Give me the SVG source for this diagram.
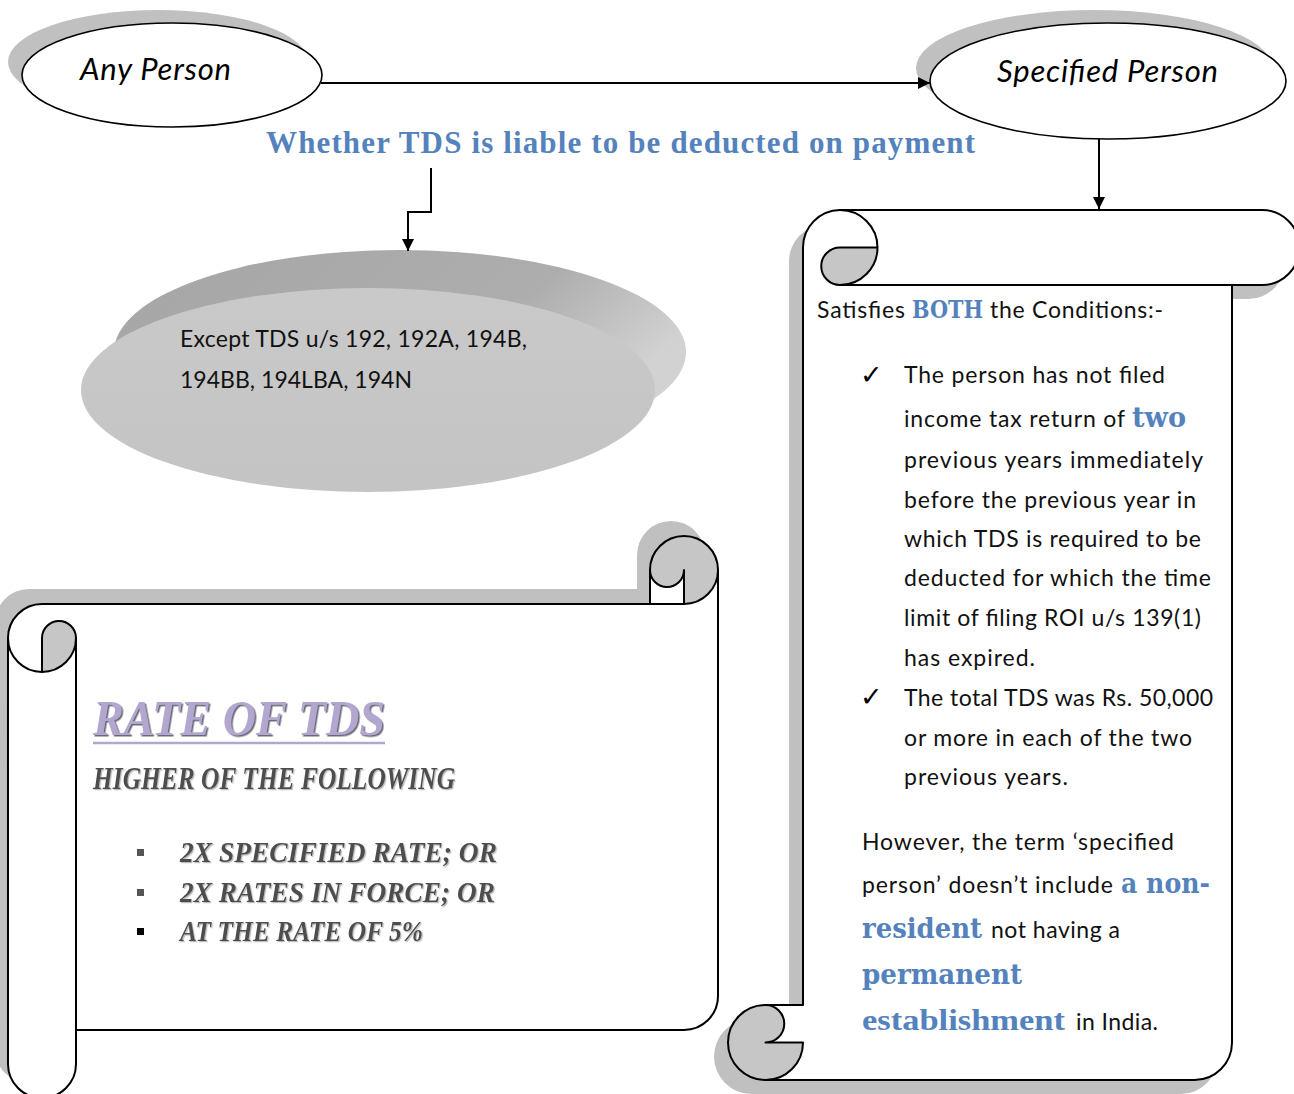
<svg xmlns="http://www.w3.org/2000/svg" width="1294" height="1094" viewBox="0 0 1294 1094">
<defs>
<style>
.outline{fill:none;stroke:#000;stroke-width:2;stroke-linejoin:round;stroke-linecap:round}
.shadow{fill:#c0c0c0}
.white{fill:#fff}
.curl{fill:#c6c6c6}
.body{font-family:Lato,'Liberation Sans',sans-serif;font-size:23px;fill:#111}
.blue{font-family:'DejaVu Serif','Liberation Serif',serif;font-weight:bold;fill:#5482bd}
.blue2{font-family:'Liberation Serif',serif;font-weight:bold;fill:#5482bd}
.title{font-family:'Liberation Serif',serif;font-weight:bold;fill:#5482bd}
.oval{font-family:Lato,'Liberation Sans',sans-serif;font-style:italic;font-size:31px;fill:#000}
.deco{font-family:'Liberation Serif',serif;font-style:italic;font-weight:bold}
.conn{fill:none;stroke:#000;stroke-width:2}
.ell{fill:#fff;stroke:#000;stroke-width:1.6}
.chk{font-family:'DejaVu Sans',sans-serif;font-size:27px;fill:#000}
</style>
<marker id="arrow" viewBox="0 0 10 10" refX="10" refY="5" markerWidth="6" markerHeight="6" orient="auto" markerUnits="strokeWidth">
<path d="M0,0 L10,5 L0,10 Z" fill="#000"/>
</marker>
<linearGradient id="rim" x1="0" y1="0" x2="1" y2="0.4">
<stop offset="0" stop-color="#a6a6a6"/>
<stop offset="0.7" stop-color="#adadad"/>
<stop offset="1" stop-color="#d2d2d2"/>
</linearGradient>
<linearGradient id="face" x1="0" y1="0" x2="0" y2="1">
<stop offset="0" stop-color="#c9c9c9"/>
<stop offset="1" stop-color="#c4c4c4"/>
</linearGradient>
<filter id="ds" x="-5%" y="-30%" width="110%" height="160%">
<feDropShadow dx="1.5" dy="1.5" stdDeviation="0.4" flood-color="#6a6a7a"/>
</filter>
<filter id="ds2" x="-5%" y="-30%" width="110%" height="160%">
<feDropShadow dx="1.2" dy="1.2" stdDeviation="0.4" flood-color="#bbbbbb"/>
</filter>
<path id="lscroll" d="M42,604 L650,604 L650,570 A34,34 0 0 1 718,570 L718,996 A34,34 0 0 1 684,1030 L76,1030 L76,1064 A34,34 0 0 1 8,1064 L8,638 A34,34 0 0 1 42,604 Z"/>
<path id="rscroll" d="M840,210 L1262,210 A37.5,37.5 0 0 1 1262,285 L1232,285 L1232,1042.5 A37.5,37.5 0 0 1 1194.5,1080 L765.5,1080 A37.5,37.5 0 0 1 765.5,1005 L803,1005 L803,247.5 A37.5,37.5 0 0 1 840,210 Z"/>
</defs>

<rect width="1294" height="1094" fill="#fff"/>

<!-- Any Person -->
<g id="node-any-person">
<ellipse class="shadow" cx="158" cy="62" rx="150" ry="52"/>
<ellipse class="ell" cx="172" cy="75" rx="150" ry="52"/>
<text class="oval" x="80" y="80" textLength="151">Any Person</text>
</g>

<!-- Specified Person -->
<g id="node-specified-person">
<ellipse class="shadow" cx="1094" cy="68" rx="178" ry="58"/>
<ellipse class="ell" cx="1108" cy="81" rx="178" ry="58"/>
<text class="oval" x="997" y="82" textLength="221">Specified Person</text>
</g>

<!-- Title -->
<g id="node-title">
<text class="title" x="266" y="153" font-size="31" textLength="709">Whether TDS is liable to be deducted on payment</text>
</g>

<!-- Grey disc -->
<g id="node-except">
<ellipse cx="400" cy="352" rx="286" ry="102" fill="url(#rim)"/>
<ellipse cx="368" cy="390" rx="287" ry="102" fill="url(#face)"/>
<text class="body" x="180" y="347" textLength="347">Except TDS u/s 192, 192A, 194B,</text>
<text class="body" x="180" y="388" textLength="232">194BB, 194LBA, 194N</text>
</g>

<!-- Left horizontal scroll: Rate of TDS -->
<g id="node-rate">
<use href="#lscroll" class="shadow" transform="translate(-13,-15)"/>
<use href="#lscroll" class="white"/>
<path class="curl" d="M42,672 A34,34 0 0 0 76,638 A17,17 0 0 0 42,638 Z"/>
<path class="curl" d="M684,604 A34,34 0 1 0 650,570 A17,17 0 0 0 684,570 Z"/>
<path class="outline" d="M8,638 A34,34 0 0 1 42,604 L650,604 L650,570 A34,34 0 0 1 718,570 L718,996 A34,34 0 0 1 684,1030 L76,1030 L76,1064 A34,34 0 0 1 8,1064 Z"/>
<path class="outline" d="M650,604 L684,604 A34,34 0 0 0 718,570"/>
<path class="outline" d="M684,604 L684,570 A17,17 0 0 1 650,570"/>
<path class="outline" d="M42,672 L42,638 A17,17 0 0 1 76,638 A34,34 0 0 1 8,638"/>
<path class="outline" d="M76,638 L76,1030"/>
<text class="deco" x="93" y="735" font-size="50" fill="#b3a6cf" filter="url(#ds)" textLength="292" lengthAdjust="spacingAndGlyphs">RATE OF TDS</text>
<line x1="93" y1="743" x2="385" y2="743" stroke="#b3a6cf" stroke-width="2.5"/>
<text class="deco" x="93" y="789" font-size="32" fill="#4e4e4e" filter="url(#ds2)" textLength="362" lengthAdjust="spacingAndGlyphs">HIGHER OF THE FOLLOWING</text>
<rect x="137" y="849" width="7" height="7" fill="#555"/>
<rect x="137" y="889" width="7" height="7" fill="#555"/>
<rect x="137" y="928" width="7" height="7" fill="#000"/>
<text class="deco" x="180" y="862" font-size="29" fill="#4e4e4e" filter="url(#ds2)" textLength="317" lengthAdjust="spacingAndGlyphs">2X SPECIFIED RATE; OR</text>
<text class="deco" x="180" y="902" font-size="29" fill="#4e4e4e" filter="url(#ds2)" textLength="315" lengthAdjust="spacingAndGlyphs">2X RATES IN FORCE; OR</text>
<text class="deco" x="180" y="941" font-size="29" fill="#4e4e4e" filter="url(#ds2)" textLength="243" lengthAdjust="spacingAndGlyphs">AT THE RATE OF 5%</text>
</g>

<!-- Right vertical scroll: conditions -->
<g id="node-conditions">
<use href="#rscroll" class="shadow" transform="translate(-14,14)"/>
<use href="#rscroll" class="white"/>
<path class="curl" d="M877.5,247.5 L840,247.5 A18.75,18.75 0 0 0 840,285 A37.5,37.5 0 0 0 877.5,247.5 Z"/>
<path class="curl" d="M803,1042.5 A37.5,37.5 0 1 1 765.5,1005 A18.75,18.75 0 0 1 765.5,1042.5 Z"/>
<path class="outline" d="M803,247.5 A37.5,37.5 0 0 1 840,210 L1262,210 A37.5,37.5 0 0 1 1262,285 L1232,285 L1232,1042.5 A37.5,37.5 0 0 1 1194.5,1080 L765.5,1080 A37.5,37.5 0 0 1 728,1042.5 A37.5,37.5 0 0 1 765.5,1005 L803,1005 Z"/>
<path class="outline" d="M877.5,247.5 L840,247.5 A18.75,18.75 0 0 0 840,285 A37.5,37.5 0 0 0 877.5,247.5 A37.5,37.5 0 0 0 840,210"/>
<path class="outline" d="M840,285 L1232,285"/>
<path class="outline" d="M765.5,1005 A18.75,18.75 0 0 1 765.5,1042.5 L803,1042.5 A37.5,37.5 0 0 1 765.5,1080"/>

<text class="body" x="817" y="318" textLength="88">Satisfies</text>
<text class="blue" x="912" y="318" font-size="24" textLength="71" lengthAdjust="spacingAndGlyphs">BOTH</text>
<text class="body" x="990" y="318" textLength="173">the Conditions:-</text>

<text class="chk" x="860" y="384">✓</text>
<text class="body" x="904" y="383" textLength="261">The person has not filed</text>
<text class="body" x="904" y="427" textLength="221">income tax return of</text>
<text class="blue" x="1132" y="427" font-size="28" textLength="54" lengthAdjust="spacingAndGlyphs">two</text>
<text class="body" x="904" y="468" textLength="299">previous years immediately</text>
<text class="body" x="904" y="508" textLength="292">before the previous year in</text>
<text class="body" x="904" y="547" textLength="297">which TDS is required to be</text>
<text class="body" x="904" y="586" textLength="307">deducted for which the time</text>
<text class="body" x="904" y="626" textLength="297">limit of filing ROI u/s 139(1)</text>
<text class="body" x="904" y="666" textLength="131">has expired.</text>

<text class="chk" x="860" y="706">✓</text>
<text class="body" x="904" y="706" textLength="309">The total TDS was Rs. 50,000</text>
<text class="body" x="904" y="746" textLength="288">or more in each of the two</text>
<text class="body" x="904" y="785" textLength="164">previous years.</text>

<text class="body" x="862" y="850" textLength="312">However, the term ‘specified</text>
<text class="body" x="862" y="893" textLength="251">person’ doesn’t include</text>
<text class="blue" x="1121" y="893" font-size="28" textLength="89" lengthAdjust="spacingAndGlyphs">a non-</text>
<text class="blue" x="862" y="938" font-size="28" textLength="120" lengthAdjust="spacingAndGlyphs">resident</text>
<text class="body" x="991" y="938" textLength="129">not having a</text>
<text class="blue" x="862" y="984" font-size="28" textLength="160" lengthAdjust="spacingAndGlyphs">permanent</text>
<text class="blue2" x="862" y="1030" font-size="30" textLength="203" lengthAdjust="spacingAndGlyphs">establishment</text>
<text class="body" x="1076" y="1030" textLength="82">in India.</text>
</g>

<!-- Connectors -->
<g id="connectors">
<line class="conn" x1="321" y1="83" x2="930" y2="83" marker-end="url(#arrow)"/>
<line class="conn" x1="1099" y1="139" x2="1099" y2="209" marker-end="url(#arrow)"/>
<polyline class="conn" points="431,168 431,212 408,212 408,251" marker-end="url(#arrow)"/>
</g>
</svg>
